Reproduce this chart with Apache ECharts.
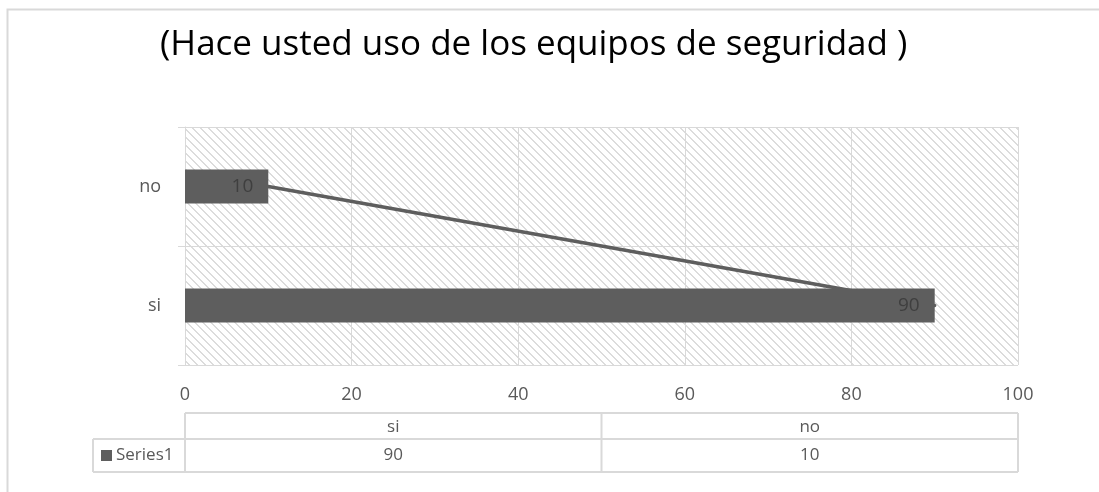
<!DOCTYPE html>
<html>
<head>
<meta charset="utf-8">
<script src="https://cdn.jsdelivr.net/npm/echarts@6/dist/echarts.min.js"></script>
<style>
  html, body { margin: 0; padding: 0; background: #ffffff; }
  #chart { width: 1099px; height: 492px; }
</style>
</head>
<body>
<div id="chart"></div>
<script>
// Chart content
const titleText = '(Hace usted uso de los equipos de seguridad )';
const categories = ['si', 'no'];
const seriesName = 'Series1';
const seriesValues = [90, 10];
const xMin = 0;
const xMax = 100;
const xInterval = 20;

const FONT = '"Open Sans", Lato, sans-serif';
const GREY_TEXT = '#595959';
const GREY_LINE = '#d9d9d9';
const BAR_COLOR = '#5e5e5e';

// Diagonal hatch tile for the plot background
function makeHatch() {
  const size = 8;
  const c = document.createElement('canvas');
  c.width = size; c.height = size;
  const ctx = c.getContext('2d');
  ctx.fillStyle = '#ffffff';
  ctx.fillRect(0, 0, size, size);
  ctx.fillStyle = '#dcdcdc';
  for (let y = 0; y < size; y++) {
    for (let x = 0; x < size; x++) {
      const d = ((x - y) % size + size) % size;
      if (d < 2) ctx.fillRect(x, y, 1, 1);
    }
  }
  return c;
}

const chart = echarts.init(document.getElementById('chart'), null, { renderer: 'canvas' });

const GRID = { left: 185, right: 81, top: 127, bottom: 127 };

chart.setOption({
  animation: false,
  backgroundColor: '#ffffff',
  title: {
    text: titleText,
    left: 155,
    top: 23,
    textStyle: { fontFamily: FONT, fontSize: 35, fontWeight: 'normal', color: '#000000' }
  },
  grid: {
    left: GRID.left, right: GRID.right, top: GRID.top, bottom: GRID.bottom,
    show: true,
    borderWidth: 0,
    backgroundColor: { image: makeHatch(), repeat: 'repeat' }
  },
  xAxis: {
    type: 'value',
    min: xMin, max: xMax, interval: xInterval,
    axisLine: { show: false },
    axisTick: { show: false },
    axisLabel: { color: GREY_TEXT, fontFamily: FONT, fontSize: 18, margin: 21 },
    splitLine: { show: true, lineStyle: { color: GREY_LINE, width: 1 } }
  },
  yAxis: {
    type: 'category',
    data: categories,
    axisLine: { show: true, lineStyle: { color: GREY_LINE, width: 1 } },
    axisTick: { show: true, length: 7, lineStyle: { color: GREY_LINE } },
    axisLabel: { color: GREY_TEXT, fontFamily: FONT, fontSize: 18, margin: 24 },
    splitLine: { show: true, lineStyle: { color: GREY_LINE, width: 1 } }
  },
  series: [
    {
      name: seriesName,
      type: 'line',
      data: seriesValues,
      z: 1,
      symbol: 'none',
      silent: true,
      lineStyle: { color: BAR_COLOR, width: 3.5, cap: 'round' }
    },
    {
      name: seriesName,
      type: 'bar',
      data: seriesValues,
      z: 3,
      barWidth: 34,
      itemStyle: { color: BAR_COLOR },
      label: {
        show: true,
        position: 'insideRight',
        distance: 15,
        color: '#3f3f3f',
        fontFamily: FONT,
        fontSize: 19
      }
    }
  ]
});

// Outer frame and data table under the axis
function buildOverlay() {
  const x0 = chart.convertToPixel({ xAxisIndex: 0 }, xMin);
  const x1 = chart.convertToPixel({ xAxisIndex: 0 }, xMax);
  const colW = (x1 - x0) / categories.length;
  const rowTop = 413, rowMid = 439, rowBot = 472, legendLeft = 93;
  const els = [];
  const lineStyle = { stroke: GREY_LINE, lineWidth: 2 };

  els.push({ type: 'rect', silent: true, shape: { x: 7.5, y: 9.5, width: 1200, height: 600 },
    style: { fill: null, stroke: GREY_LINE, lineWidth: 2 }, z: 0 });

  const hLine = (xa, xb, y) => els.push({ type: 'line', silent: true, shape: { x1: xa, y1: y, x2: xb, y2: y }, style: lineStyle });
  const vLine = (x, ya, yb) => els.push({ type: 'line', silent: true, shape: { x1: x, y1: ya, x2: x, y2: yb }, style: lineStyle });

  hLine(x0, x1, rowTop);
  hLine(legendLeft, x1, rowMid);
  hLine(legendLeft, x1, rowBot);
  vLine(legendLeft, rowMid, rowBot);
  for (let i = 0; i <= categories.length; i++) vLine(x0 + colW * i, rowTop, rowBot);

  const cellFont = '17px ' + FONT;
  categories.forEach((cat, i) => {
    const cx = x0 + colW * (i + 0.5);
    els.push({ type: 'text', silent: true, x: cx, y: (rowTop + rowMid) / 2 + 1,
      style: { text: cat, fill: GREY_TEXT, font: cellFont, align: 'center', verticalAlign: 'middle' } });
    els.push({ type: 'text', silent: true, x: cx, y: (rowMid + rowBot) / 2,
      style: { text: String(seriesValues[i]), fill: GREY_TEXT, font: cellFont, align: 'center', verticalAlign: 'middle' } });
  });

  els.push({ type: 'rect', silent: true, shape: { x: 101, y: 450, width: 11, height: 11 }, style: { fill: BAR_COLOR } });
  els.push({ type: 'text', silent: true, x: 116, y: (rowMid + rowBot) / 2,
    style: { text: seriesName, fill: GREY_TEXT, font: cellFont, align: 'left', verticalAlign: 'middle' } });

  chart.setOption({ graphic: { elements: els } });
}
buildOverlay();
</script>
</body>
</html>
